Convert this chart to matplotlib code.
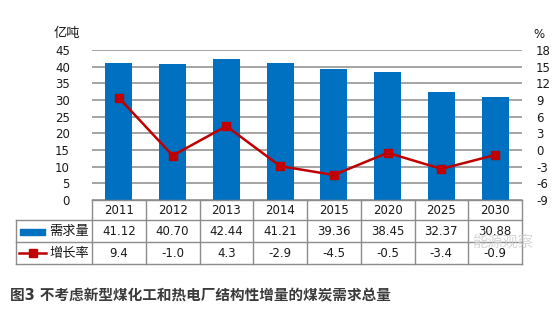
import numpy as np
import matplotlib.pyplot as plt
from matplotlib.lines import Line2D
from matplotlib.patches import Rectangle

plt.rcParams['font.family'] = ['DejaVu Sans', 'Noto Sans CJK SC']
plt.rcParams['axes.unicode_minus'] = False

years = ['2011', '2012', '2013', '2014', '2015', '2020', '2025', '2030']
demand = [41.12, 40.70, 42.44, 41.21, 39.36, 38.45, 32.37, 30.88]
growth = [9.4, -1.0, 4.3, -2.9, -4.5, -0.5, -3.4, -0.9]
demand_txt = ['41.12', '40.70', '42.44', '41.21', '39.36', '38.45', '32.37', '30.88']
growth_txt = ['9.4', '-1.0', '4.3', '-2.9', '-4.5', '-0.5', '-3.4', '-0.9']

W, H = 558, 330
blue = '#0070C0'
red = '#C00000'
grid = '#8c8c8c'
txt = '#1a1a1a'
fs = 8.5

fig = plt.figure(figsize=(W / 100, H / 100), dpi=100)


def fx(x):
    return x / W


def fy(y):
    return 1 - y / H


L, R, T, B = 92, 522, 50, 200
ax = fig.add_axes([fx(L), fy(B), fx(R - L), (B - T) / H])
x = np.arange(len(years))
ax.bar(x, demand, width=0.5, color=blue, zorder=3)
ax.set_xlim(-0.5, len(years) - 0.5)
ax.set_ylim(0, 45)
ax.set_yticks(range(0, 46, 5))
ax.yaxis.grid(True, color=grid, linewidth=1.1, zorder=0)
ax.set_axisbelow(True)
ax.set_xticks([])
for s in ax.spines.values():
    s.set_visible(False)
ax.tick_params(axis='y', length=0, pad=16, labelsize=fs, labelcolor=txt)

ax2 = ax.twinx()
ax2.plot(x, growth, color=red, linewidth=1.8, marker='s', markersize=6,
         markerfacecolor=red, markeredgecolor=red, zorder=4)
ax2.set_ylim(-9, 18)
ax2.set_yticks(range(-9, 19, 3))
for s in ax2.spines.values():
    s.set_visible(False)
ax2.tick_params(axis='y', length=0, pad=10, labelsize=fs, labelcolor=txt)

fig.text(fx(80), fy(34), '亿吨', ha='right', va='center', fontsize=9.5, color=txt)
fig.text(fx(533), fy(34), '%', ha='left', va='center', fontsize=fs, color=txt)

# table below the chart
col_w = (R - L) / len(years)
rows = [200, 220, 242, 264]
lw = 1.0
fig.add_artist(Line2D([fx(L), fx(R)], [fy(rows[0])] * 2, color=grid, lw=lw))
for yy in rows[1:]:
    fig.add_artist(Line2D([fx(16), fx(R)], [fy(yy)] * 2, color=grid, lw=lw))
fig.add_artist(Line2D([fx(16), fx(16)], [fy(rows[1]), fy(rows[3])], color=grid, lw=lw))
for i in range(len(years) + 1):
    xx = L + i * col_w
    fig.add_artist(Line2D([fx(xx), fx(xx)], [fy(rows[0]), fy(rows[3])], color=grid, lw=lw))

for i in range(len(years)):
    cx = fx(L + (i + 0.5) * col_w)
    fig.text(cx, fy(210.5), years[i], ha='center', va='center', fontsize=fs, color=txt)
    fig.text(cx, fy(231.5), demand_txt[i], ha='center', va='center', fontsize=fs, color=txt)
    fig.text(cx, fy(253.5), growth_txt[i], ha='center', va='center', fontsize=fs, color=txt)

fig.add_artist(Rectangle((fx(20), fy(234.5)), fx(25), 6 / H, color=blue,
                         transform=fig.transFigure))
fig.text(fx(49), fy(231), '需求量', ha='left', va='center', fontsize=9.5, color=txt)
fig.add_artist(Line2D([fx(19), fx(46)], [fy(252.5)] * 2, color=red, lw=1.8,
                      transform=fig.transFigure))
fig.add_artist(Line2D([fx(32.5)], [fy(252.5)], color=red, marker='s', markersize=6,
                      transform=fig.transFigure))
fig.text(fx(49), fy(253), '增长率', ha='left', va='center', fontsize=9.5, color=txt)

# faint watermark, overlapping the table as in the original
fig.text(fx(503), fy(242), '能源观察', ha='center', va='center', fontsize=11,
         color='#cccccc', alpha=0.8)

fig.text(fx(10), fy(296), '图3 不考虑新型煤化工和热电厂结构性增量的煤炭需求总量',
         ha='left', va='center', fontsize=10.5, fontweight='bold', color='#3a3a3a')

fig.savefig('out.png', dpi=100, facecolor='white')
